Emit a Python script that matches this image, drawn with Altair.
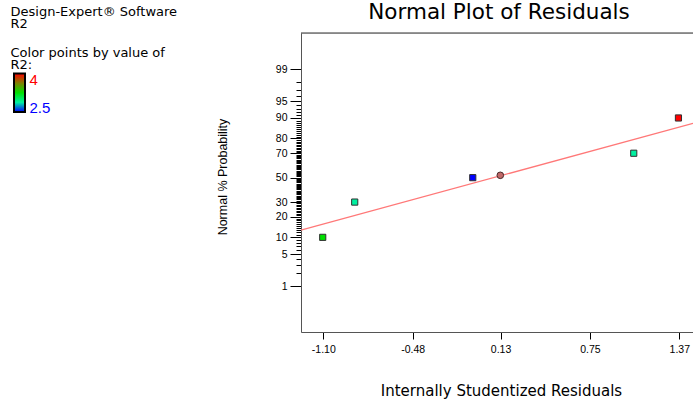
import altair as alt
import pandas as pd
from statistics import NormalDist

# ---------------- data ----------------
resid = [-1.104, -0.882, -0.063, 1.054, 1.364]
prob = [10, 30, 50, 70, 90]
r2 = [3.25, 2.875, 2.5, 2.875, 4.0]

center_resid = [0.128]
center_prob = [52.0]

line_resid = [-1.2547, 1.465]
line_prob = [13.05, 87.8]

x_ticks = [-1.10, -0.48, 0.13, 0.75, 1.37]
y_major = [1, 5, 10, 20, 30, 50, 70, 80, 90, 95, 99]
y_minor = [p for p in range(2, 99) if p not in y_major]

r2_stops = [2.5, 2.875, 3.25, 3.625, 4.0]
r2_colors = ["#0000ff", "#00f0a0", "#00e000", "#808000", "#ff0000"]

header_lines = ["Design-Expert® Software", "R2"]
legend_lines = ["Color points by value of", "R2:"]
legend_hi = "4"
legend_lo = "2.5"

title_text = "Normal Plot of Residuals"
x_title = "Internally Studentized Residuals"
y_title = "Normal % Probability"

# ---------------- layout ----------------
LEFT, TOP, W, H = 301, 33, 392, 299
X_DOMAIN = [-1.2547, 1.465]
Y_DOMAIN = [-3.314, 3.106]

nd = NormalDist()
major_z = [nd.inv_cdf(p / 100) for p in y_major]
minor_z = [nd.inv_cdf(p / 100) for p in y_minor]

pts_df = pd.DataFrame({"resid": resid, "prob": prob, "r2": r2})
ctr_df = pd.DataFrame({"resid": center_resid, "prob": center_prob})
line_df = pd.DataFrame({"resid": line_resid, "prob": line_prob})
one = pd.DataFrame({"k": [0]})

x_enc = alt.X(
    "resid:Q",
    scale=alt.Scale(domain=X_DOMAIN, nice=False, zero=False),
    axis=alt.Axis(
        values=x_ticks,
        labelExpr="(datum.value < 0 ? '-' : '') + format(abs(datum.value), '.2f')",
        labelFont="Liberation Sans",
        labelFontSize=10.5,
        labelColor="black",
        tickSize=7,
        tickColor="black",
        labelPadding=5,
        domainColor="#555555",
        grid=False,
        title=x_title,
        titleFont="DejaVu Sans",
        titleFontSize=15,
        titleFontWeight="normal",
        titleColor="black",
        titleX=200,
        titleY=63,
        titleBaseline="alphabetic",
        titleAlign="center",
    ),
)

y_scale = alt.Scale(domain=Y_DOMAIN, nice=False, zero=False)

y_major_enc = alt.Y(
    "z:Q",
    scale=y_scale,
    axis=alt.Axis(
        orient="left",
        values=major_z,
        labelExpr="format(round(cumulativeNormal(datum.value) * 100), 'd')",
        labelFont="Liberation Sans",
        labelFontSize=10.5,
        labelColor="black",
        tickSize=11,
        tickColor="black",
        labelPadding=3,
        domainColor="#555555",
        grid=False,
        title=y_title,
        titleFont="Liberation Sans",
        titleFontSize=12.5,
        titleFontWeight="normal",
        titleColor="black",
        titleAngle=270,
        titleX=-74.5,
        titleY=143.5,
        titleBaseline="alphabetic",
        titleAlign="center",
    ),
)

y_minor_enc = alt.Y(
    "z:Q",
    scale=y_scale,
    axis=alt.Axis(
        orient="left",
        values=minor_z,
        labels=False,
        tickSize=5,
        tickColor="black",
        domain=False,
        grid=False,
        title=None,
    ),
)

color_enc = alt.Color(
    "r2:Q",
    scale=alt.Scale(domain=r2_stops, range=r2_colors, interpolate="rgb"),
    legend=None,
)

points = (
    alt.Chart(pts_df)
    .transform_calculate(z="quantileNormal(datum.prob / 100)")
    .mark_square(size=38, opacity=1, stroke="#303030", strokeWidth=1)
    .encode(x=x_enc, y=y_major_enc, color=color_enc)
)

center = (
    alt.Chart(ctr_df)
    .transform_calculate(z="quantileNormal(datum.prob / 100)")
    .mark_point(shape="circle", filled=True, size=44, opacity=1,
                fill="#c06868", stroke="#4a2a2a", strokeWidth=1)
    .encode(x=x_enc, y=alt.Y("z:Q", scale=y_scale, axis=None))
)

fit_line = (
    alt.Chart(line_df)
    .transform_calculate(z="quantileNormal(datum.prob / 100)")
    .mark_line(color="#ff7878", strokeWidth=1.3)
    .encode(x=x_enc, y=y_minor_enc)
)

top_rule = (
    alt.Chart(one)
    .mark_rule(color="#303030", strokeWidth=1)
    .encode(x=alt.value(0), x2=alt.value(W), y=alt.value(0))
)

main_title = (
    alt.Chart(one)
    .mark_text(text=title_text, font="DejaVu Sans", fontSize=21.5, color="black",
               align="center", baseline="alphabetic")
    .encode(x=alt.value(499 - LEFT), y=alt.value(18.5 - TOP))
)

header = (
    alt.Chart(one)
    .mark_text(text=header_lines, font="DejaVu Sans", fontSize=13, color="black",
               align="left", baseline="alphabetic", lineHeight=12.2)
    .encode(x=alt.value(10.5 - LEFT), y=alt.value(15.5 - TOP))
)

legend_head = (
    alt.Chart(one)
    .mark_text(text=legend_lines, font="DejaVu Sans", fontSize=13, color="black",
               align="left", baseline="alphabetic", lineHeight=12.3)
    .encode(x=alt.value(10.5 - LEFT), y=alt.value(57 - TOP))
)

span = r2_stops[-1] - r2_stops[0]
grad = alt.LinearGradient(
    gradient="linear",
    stops=[alt.GradientStop(color=c, offset=(v - r2_stops[0]) / span)
           for v, c in zip(r2_stops, r2_colors)],
    x1=0, x2=0, y1=1, y2=0,
)

legend_bar = (
    alt.Chart(one)
    .mark_rect(fill=grad, stroke="black", strokeWidth=2)
    .encode(x=alt.value(14 - LEFT), x2=alt.value(25 - LEFT),
            y=alt.value(73.5 - TOP), y2=alt.value(112 - TOP))
)

legend_hi_txt = (
    alt.Chart(one)
    .mark_text(text=legend_hi, font="Liberation Sans", fontSize=15, color="#ff0000",
               align="left", baseline="alphabetic")
    .encode(x=alt.value(29.5 - LEFT), y=alt.value(84.5 - TOP))
)

legend_lo_txt = (
    alt.Chart(one)
    .mark_text(text=legend_lo, font="Liberation Sans", fontSize=15, color="#0000ff",
               align="left", baseline="alphabetic")
    .encode(x=alt.value(29.5 - LEFT), y=alt.value(112.5 - TOP))
)

chart = (
    alt.layer(fit_line, points, center, top_rule, main_title, header, legend_head,
              legend_bar, legend_hi_txt, legend_lo_txt)
    .resolve_axis(y="independent")
    .properties(
        width=W,
        height=H,
        autosize=alt.AutoSizeParams(type="none"),
        padding={"left": LEFT, "top": TOP, "right": 0, "bottom": 402 - TOP - H},
    )
    .configure_view(stroke=None)
    .configure(background="white")
)

chart.save("out.html", embed_options={"renderer": "svg", "actions": False})
